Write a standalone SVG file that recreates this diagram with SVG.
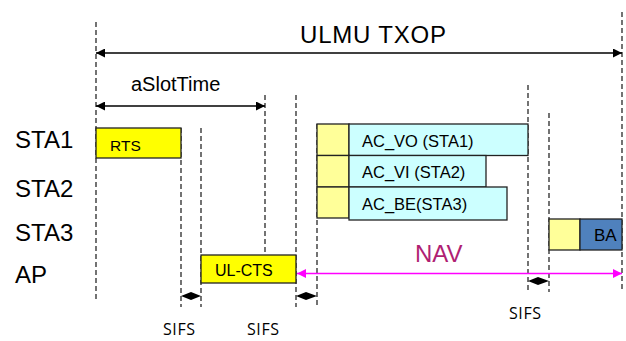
<svg xmlns="http://www.w3.org/2000/svg" width="626" height="341" viewBox="0 0 626 341">
<defs>
<style>
.dash{stroke:#000;stroke-width:1.1;stroke-dasharray:5,3;fill:none}
.lbl{font-family:"Liberation Sans",Arial,sans-serif;fill:#000}
.box{stroke:#222;stroke-width:1.3}
.sifs{font-family:"Open Sans","Liberation Sans",sans-serif;font-size:16px;letter-spacing:0.6px;fill:#000}
</style>
<marker id="ah" viewBox="0 0 10 10" refX="10" refY="5" markerWidth="10" markerHeight="9" markerUnits="userSpaceOnUse" orient="auto-start-reverse"><path d="M0,0L10,5L0,10z" fill="#000"/></marker>
<marker id="ahm" viewBox="0 0 10 10" refX="10" refY="5" markerWidth="10" markerHeight="9" markerUnits="userSpaceOnUse" orient="auto-start-reverse"><path d="M0,0L10,5L0,10z" fill="#FF00FF"/></marker>
</defs>
<rect width="626" height="341" fill="#fff"/>
<g id="timelines">
<line class="dash" x1="96" y1="22" x2="96" y2="302"/>
<line class="dash" x1="181" y1="128" x2="181" y2="307"/>
<line class="dash" x1="201" y1="128" x2="201" y2="307"/>
<line class="dash" x1="265" y1="95" x2="265" y2="255"/>
<line class="dash" x1="296" y1="95" x2="296" y2="307"/>
<line class="dash" x1="317" y1="124" x2="317" y2="307"/>
<line class="dash" x1="528" y1="85" x2="528" y2="292"/>
<line class="dash" x1="549" y1="113" x2="549" y2="292"/>
<line class="dash" x1="622" y1="12" x2="622" y2="292"/>
</g>
<g id="labels">
<text class="lbl" x="15" y="148" font-size="24">STA1</text>
<text class="lbl" x="15" y="197" font-size="24">STA2</text>
<text class="lbl" x="15" y="241" font-size="24">STA3</text>
<text class="lbl" x="15" y="283" font-size="24">AP</text>
</g>
<g id="connectors">
<line x1="96" y1="53" x2="622" y2="53" stroke="#000" stroke-width="1.3" marker-start="url(#ah)" marker-end="url(#ah)"/>
<line x1="96" y1="106" x2="265" y2="106" stroke="#000" stroke-width="1.3" marker-start="url(#ah)" marker-end="url(#ah)"/>
<line x1="297" y1="273.5" x2="622" y2="273.5" stroke="#FF00FF" stroke-width="1.5" marker-start="url(#ahm)" marker-end="url(#ahm)"/>
<polygon points="181,296 191,292 201,296 191,300" fill="#000"/>
<polygon points="296,296 306,292 317,296 306,300" fill="#000"/>
<polygon points="528,281 538,277 549,281 538,285" fill="#000"/>
</g>
<g id="txop-label"><text class="lbl" x="300" y="43" font-size="24" letter-spacing="0.8">ULMU TXOP</text></g>
<g id="slot-label"><text class="lbl" x="131" y="91" font-size="20">aSlotTime</text></g>
<g id="rts">
<rect class="box" x="96" y="128" width="85" height="30" fill="#FFFF00"/>
<text class="lbl" x="110" y="151" font-size="15.5">RTS</text>
</g>
<g id="ul-cts">
<rect class="box" x="201" y="255" width="95" height="28" fill="#FFFF00"/>
<text class="lbl" x="215" y="276" font-size="16">UL-CTS</text>
</g>
<g id="ac-vo">
<rect class="box" x="317" y="124" width="32" height="31.5" fill="#FFFF99"/>
<rect class="box" x="349" y="124" width="179" height="31.5" fill="#CCFFFF"/>
<text class="lbl" x="362" y="147" font-size="16.5">AC_VO (STA1)</text>
</g>
<g id="ac-vi">
<rect class="box" x="317" y="155.5" width="32" height="31.5" fill="#FFFF99"/>
<rect class="box" x="349" y="155.5" width="137" height="31.5" fill="#CCFFFF"/>
<text class="lbl" x="362" y="178" font-size="16.5">AC_VI (STA2)</text>
</g>
<g id="ac-be">
<rect class="box" x="317" y="187" width="32" height="31" fill="#FFFF99"/>
<rect class="box" x="349" y="187" width="158" height="33" fill="#CCFFFF"/>
<text class="lbl" x="362" y="210" font-size="16.5">AC_BE(STA3)</text>
</g>
<g id="ba">
<rect class="box" x="549" y="219" width="31" height="31" fill="#FFFF99"/>
<rect class="box" x="580" y="219" width="42" height="31" fill="#4F81BD"/>
<text class="lbl" x="594" y="241" font-size="17">BA</text>
</g>
<g id="nav"><text x="415" y="262" font-family="Liberation Sans,Arial,sans-serif" font-size="24" fill="#B01F73">NAV</text></g>
<g id="sifs-labels">
<text class="sifs" x="163" y="335">SIFS</text>
<text class="sifs" x="247" y="335">SIFS</text>
<text class="sifs" x="509" y="319">SIFS</text>
</g>
</svg>
